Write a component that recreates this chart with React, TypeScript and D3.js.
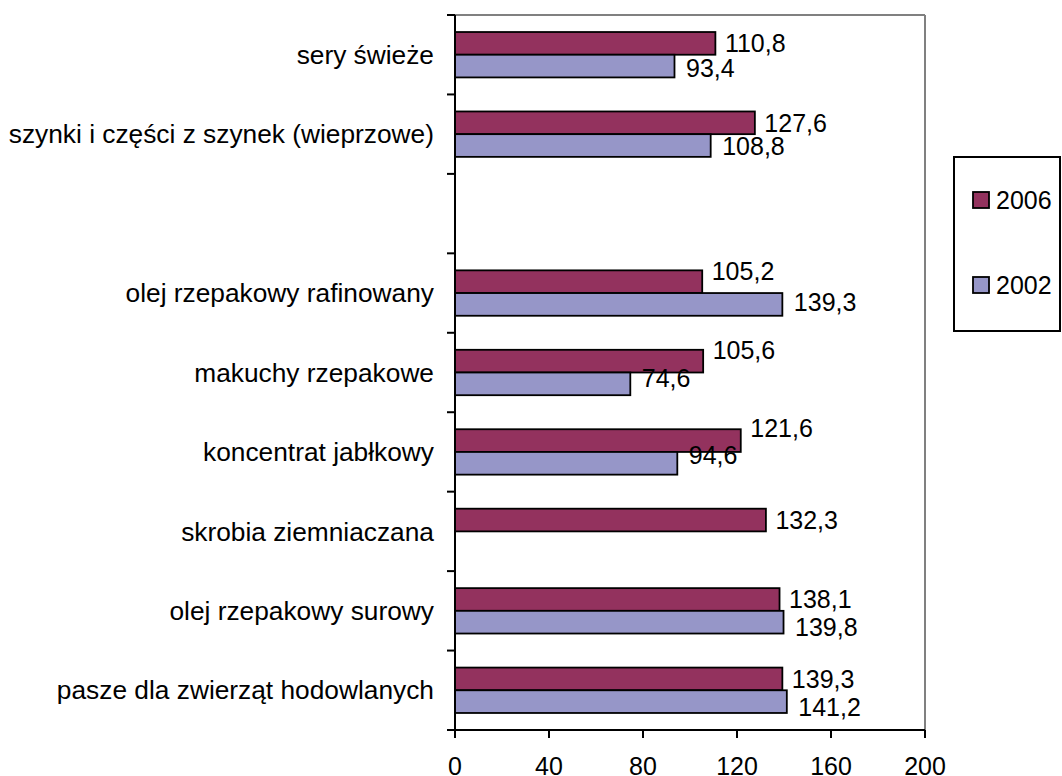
import React from "react";
import * as d3 from "d3";

const categories = [
  "sery świeże",
  "szynki i części z szynek (wieprzowe)",
  "",
  "olej rzepakowy rafinowany",
  "makuchy rzepakowe",
  "koncentrat jabłkowy",
  "skrobia ziemniaczana",
  "olej rzepakowy surowy",
  "pasze dla zwierząt hodowlanych",
];
const values2006: (number | null)[] = [110.8, 127.6, null, 105.2, 105.6, 121.6, 132.3, 138.1, 139.3];
const values2002: (number | null)[] = [93.4, 108.8, null, 139.3, 74.6, 94.6, null, 139.8, 141.2];
const series = ["2006", "2002"];
const xTicks = [0, 40, 80, 120, 160, 200];

// manual label nudges (vertical, px) as in the original
const nudge2006 = [0, 0, 0, -10, -11, -12, 0, 0, 0];
const nudge2002 = [2, 1, 0, -2, -6, -8, 0, 5, 6];

const W = 1062;
const H = 776;
const left = 455;
const right = 925;
const top = 15;
const bottom = 730;
const FONT = "'Liberation Sans', Arial, sans-serif";
const FS = 25;
const FS_CAT = 26.3;
const C2006 = "#93325E";
const C2002 = "#9696C8";

const fmt = (v: number) => v.toFixed(1).replace(".", ",");

export default function App() {
  const x = d3.scaleLinear().domain([0, 200]).range([left, right]);
  const y = d3.scaleBand<number>().domain(d3.range(categories.length)).range([top, bottom]);
  const inner = d3
    .scaleBand<string>()
    .domain(series)
    .range([0, y.bandwidth()])
    .paddingInner(0)
    .paddingOuter(0.75);

  const bars: React.ReactNode[] = [];
  const labels: React.ReactNode[] = [];
  categories.forEach((_, i) => {
    [values2006[i], values2002[i]].forEach((v, s) => {
      if (v == null) return;
      const key = series[s];
      const by = (y(i) as number) + (inner(key) as number);
      const bh = inner.bandwidth();
      bars.push(
        <rect
          key={`b${i}${s}`}
          x={x(0)}
          y={by}
          width={x(v) - x(0)}
          height={bh}
          fill={s === 0 ? C2006 : C2002}
          stroke="#000"
          strokeWidth={1.8}
        />
      );
      const nd = s === 0 ? nudge2006[i] : nudge2002[i];
      labels.push(
        <text
          key={`l${i}${s}`}
          x={x(v) + (s === 0 ? 9.5 : 11.5)}
          y={by + bh / 2 + nd}
          dy="0.35em"
          fontSize={FS}
          fontFamily={FONT}
          fill="#000"
        >
          {fmt(v)}
        </text>
      );
    });
  });

  return (
    <svg width={W} height={H} style={{ position: "absolute", left: 0, top: 0, background: "#fff" }}>
      <rect x={0} y={0} width={W} height={H} fill="#fff" />
      {/* plot border top/right gray */}
      <line x1={left} x2={right} y1={top} y2={top} stroke="#808080" strokeWidth={2} />
      <line x1={right} x2={right} y1={top} y2={bottom} stroke="#808080" strokeWidth={2} />
      {bars}
      {labels}
      {/* left axis */}
      <line x1={left} x2={left} y1={top} y2={bottom} stroke="#000" strokeWidth={2} />
      {d3.range(categories.length + 1).map((k) => {
        const ty = top + k * y.step();
        return <line key={`yt${k}`} x1={left - 8} x2={left} y1={ty} y2={ty} stroke="#000" strokeWidth={2} />;
      })}
      {categories.map((c, i) => (
        <text
          key={`c${i}`}
          x={left - 21}
          y={(y(i) as number) + y.bandwidth() / 2}
          dy="0.35em"
          textAnchor="end"
          fontSize={FS_CAT}
          fontFamily={FONT}
          fill="#000"
        >
          {c}
        </text>
      ))}
      {/* bottom axis */}
      <line x1={left - 8} x2={right} y1={bottom} y2={bottom} stroke="#000" strokeWidth={2} />
      {xTicks.map((t) => (
        <g key={`xt${t}`}>
          <line x1={x(t)} x2={x(t)} y1={bottom} y2={bottom + 8} stroke="#000" strokeWidth={2} />
          <text x={x(t)} y={775} textAnchor="middle" fontSize={FS} fontFamily={FONT} fill="#000">
            {t}
          </text>
        </g>
      ))}
      {/* legend */}
      <rect x={954} y={157} width={106} height={174} fill="#fff" stroke="#000" strokeWidth={2} />
      {series.map((s, k) => {
        const cy = k === 0 ? 200 : 285;
        return (
          <g key={`lg${s}`}>
            <rect x={973} y={cy - 8} width={16} height={16} fill={k === 0 ? C2006 : C2002} stroke="#000" strokeWidth={1.8} />
            <text x={996} y={cy} dy="0.35em" fontSize={FS} fontFamily={FONT} fill="#000">
              {s}
            </text>
          </g>
        );
      })}
    </svg>
  );
}
